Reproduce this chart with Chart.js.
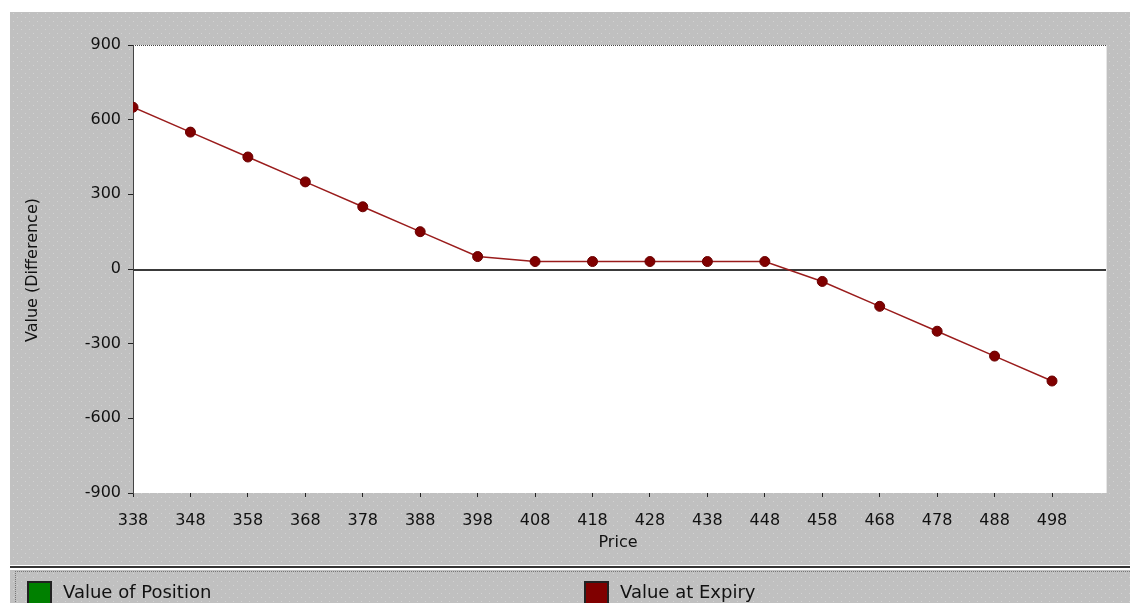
<!DOCTYPE html>
<html>
<head>
<meta charset="utf-8">
<script src="https://cdn.jsdelivr.net/npm/chart.js@4.4.0/dist/chart.umd.min.js"></script>
<style>
html,body{margin:0;padding:0;background:#fff;}
#wrap{position:relative;width:1130px;height:603px;}
</style>
</head>
<body>
<div id="wrap"><canvas id="c" width="1130" height="603"></canvas></div>
<script>
const prices = [338,348,358,368,378,388,398,408,418,428,438,448,458,468,478,488,498];
const valueAtExpiry = [650,550,450,350,250,150,50,30,30,30,30,30,-50,-150,-250,-350,-450];
const valueOfPosition = [];
const yTicks = [-900,-600,-300,0,300,600,900];
const xTitle = 'Price';
const yTitle = 'Value (Difference)';
const seriesLabels = ['Value of Position','Value at Expiry'];
const seriesColors = ['#008000','#800000'];
const FONT = '"DejaVu Sans", Verdana, sans-serif';

function makePattern(ctx){
  const t=document.createElement('canvas');t.width=8;t.height=8;
  const c=t.getContext('2d');
  c.fillStyle='#c0c0c0';c.fillRect(0,0,8,8);
  c.fillStyle='#d2d2d2';c.fillRect(1,1,1,1);c.fillRect(5,5,1,1);
  return ctx.createPattern(t,'repeat');
}

const bgPlugin={
  id:'bg',
  beforeDraw(chart){
    const ctx=chart.ctx;const a=chart.chartArea;
    ctx.save();
    ctx.fillStyle='#fff';ctx.fillRect(0,0,1130,603);
    const p=makePattern(ctx);
    ctx.fillStyle=p;
    ctx.fillRect(10,12,1120,553);
    ctx.fillRect(10,570,1120,33);
    ctx.fillStyle='#fff';ctx.fillRect(10,565,1120,1);
    ctx.fillStyle='#333';ctx.fillRect(10,566,1120,2);
    ctx.fillStyle='#fff';ctx.fillRect(10,568,1120,1);
    ctx.strokeStyle='#777';ctx.setLineDash([1,1]);ctx.lineWidth=1;
    ctx.beginPath();ctx.moveTo(15,571.5);ctx.lineTo(1130,571.5);ctx.moveTo(15.5,571);ctx.lineTo(15.5,603);ctx.stroke();
    ctx.setLineDash([]);
    ctx.fillStyle='#fff';ctx.fillRect(a.left,a.top,a.right-a.left,a.bottom-a.top);
    ctx.strokeStyle='#e6e6e6';ctx.beginPath();ctx.moveTo(a.right+0.5,a.top);ctx.lineTo(a.right+0.5,a.bottom);ctx.stroke();
    ctx.restore();
  },
  beforeDatasetsDraw(chart){
    const ctx=chart.ctx;const a=chart.chartArea;
    const y0=Math.round(chart.scales.y.getPixelForValue(0));
    ctx.save();
    ctx.fillStyle='#3a3a3a';ctx.fillRect(a.left,y0,a.right-a.left,2);
    ctx.restore();
  },
  afterDraw(chart){
    const ctx=chart.ctx;const a=chart.chartArea;
    ctx.save();
    ctx.strokeStyle='#444';ctx.setLineDash([1,1]);ctx.lineWidth=1;
    ctx.beginPath();ctx.moveTo(a.left,a.top+0.5);ctx.lineTo(a.right,a.top+0.5);ctx.stroke();
    ctx.setLineDash([]);
    ctx.fillStyle='#111';
    ctx.font='16px '+FONT;
    ctx.textAlign='center';ctx.textBaseline='middle';
    ctx.fillText(xTitle,618,543);
    ctx.translate(33,270);ctx.rotate(-Math.PI/2);
    ctx.fillText(yTitle,0,0);
    ctx.restore();
    ctx.save();
    const items=[{x:27,t:seriesLabels[0],c:seriesColors[0]},{x:584,t:seriesLabels[1],c:seriesColors[1]}];
    ctx.font='18px '+FONT;
    ctx.textBaseline='middle';ctx.textAlign='left';
    items.forEach(it=>{
      ctx.fillStyle='#222';ctx.fillRect(it.x,581,25,24);
      ctx.fillStyle=it.c;ctx.fillRect(it.x+2,583,21,22);
      ctx.fillStyle='#111';ctx.fillText(it.t,it.x+36,593);
    });
    ctx.restore();
  }
};

new Chart(document.getElementById('c'),{
  type:'line',
  data:{
    datasets:[
      {label:seriesLabels[0],data:valueOfPosition,borderColor:seriesColors[0],backgroundColor:seriesColors[0]},
      {label:seriesLabels[1],data:prices.map((p,i)=>({x:p,y:valueAtExpiry[i]})),
       borderColor:'#9a1c1c',borderWidth:1.5,backgroundColor:'#800000',
       pointRadius:5,pointHoverRadius:5,pointBorderColor:'#6a0000',pointBorderWidth:1,tension:0}
    ]
  },
  plugins:[bgPlugin],
  options:{
    responsive:false,animation:false,
    layout:{padding:{left:0,top:45,right:24,bottom:0}},
    plugins:{legend:{display:false},tooltip:{enabled:false}},
    scales:{
      x:{type:'linear',min:338,max:507.4,
        afterFit(s){s.height=110;},
        afterBuildTicks(s){s.ticks=prices.map(v=>({value:v}));},
        ticks:{color:'#111',font:{family:FONT,size:16},padding:14,maxRotation:0,autoSkip:false},
        grid:{drawOnChartArea:false,tickLength:4,tickColor:'#222'},
        border:{display:false}
      },
      y:{min:-900,max:900,
        afterFit(s){s.width=133;},
        afterBuildTicks(s){s.ticks=yTicks.map(v=>({value:v}));},
        ticks:{color:'#111',font:{family:FONT,size:16},padding:7},
        grid:{drawOnChartArea:false,tickLength:5,tickColor:'#222'},
        border:{display:true,color:'#444',dash:[1,1]}
      }
    }
  }
});
</script>
</body>
</html>
